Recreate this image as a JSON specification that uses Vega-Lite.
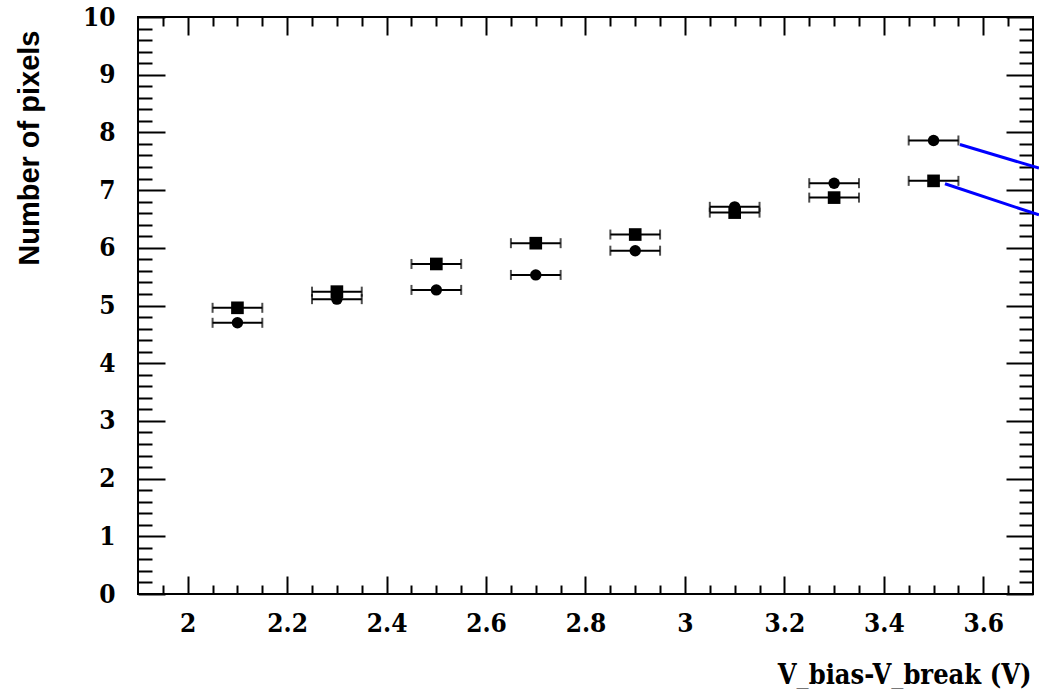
{
  "$schema": "https://vega.github.io/schema/vega-lite/v6.json",
  "width": 895,
  "height": 577,
  "autosize": "none",
  "padding": {"left": 138, "top": 17, "right": 6, "bottom": 95},
  "background": "white",
  "config": {
    "view": {"stroke": "black", "strokeWidth": 2},
    "axis": {"grid": false, "domain": false, "tickColor": "black", "labelColor": "black", "titleColor": "black"}
  },
  "datasets": {
    "pts": [
      {"x": 2.1, "xlo": 2.05, "xhi": 2.15, "y": 4.70, "series": "circle"},
      {"x": 2.3, "xlo": 2.25, "xhi": 2.35, "y": 5.11, "series": "circle"},
      {"x": 2.5, "xlo": 2.45, "xhi": 2.55, "y": 5.27, "series": "circle"},
      {"x": 2.7, "xlo": 2.65, "xhi": 2.75, "y": 5.53, "series": "circle"},
      {"x": 2.9, "xlo": 2.85, "xhi": 2.95, "y": 5.95, "series": "circle"},
      {"x": 3.1, "xlo": 3.05, "xhi": 3.15, "y": 6.71, "series": "circle"},
      {"x": 3.3, "xlo": 3.25, "xhi": 3.35, "y": 7.12, "series": "circle"},
      {"x": 3.5, "xlo": 3.45, "xhi": 3.55, "y": 7.86, "series": "circle"},
      {"x": 2.1, "xlo": 2.05, "xhi": 2.15, "y": 4.96, "series": "square"},
      {"x": 2.3, "xlo": 2.25, "xhi": 2.35, "y": 5.24, "series": "square"},
      {"x": 2.5, "xlo": 2.45, "xhi": 2.55, "y": 5.72, "series": "square"},
      {"x": 2.7, "xlo": 2.65, "xhi": 2.75, "y": 6.08, "series": "square"},
      {"x": 2.9, "xlo": 2.85, "xhi": 2.95, "y": 6.23, "series": "square"},
      {"x": 3.1, "xlo": 3.05, "xhi": 3.15, "y": 6.61, "series": "square"},
      {"x": 3.3, "xlo": 3.25, "xhi": 3.35, "y": 6.87, "series": "square"},
      {"x": 3.5, "xlo": 3.45, "xhi": 3.55, "y": 7.16, "series": "square"}
    ],
    "lines": [
      {"xa": 3.553, "ya": 7.79, "xb": 3.712, "yb": 7.38},
      {"xa": 3.523, "ya": 7.11, "xb": 3.712, "yb": 6.57}
    ]
  },
  "resolve": {"axis": {"x": "independent", "y": "independent"}},
  "layer": [
    {
      "data": {"name": "pts"},
      "mark": {"type": "rule", "color": "black", "strokeWidth": 2},
      "encoding": {
        "x": {"field": "xlo", "type": "quantitative", "scale": {"domain": [1.9, 3.7], "nice": false, "zero": false},
          "axis": {"orient": "bottom", "values": [2, 2.2, 2.4, 2.6, 2.8, 3, 3.2, 3.4, 3.6], "format": "~r", "tickSize": -18, "tickWidth": 2,
            "labelFont": "DejaVu Serif Condensed", "labelFontWeight": "bold", "labelFontSize": 26, "labelPadding": 34,
            "title": "V_bias-V_break (V)", "titleFont": "DejaVu Serif Condensed", "titleFontWeight": "bold", "titleFontSize": 27,
            "titleAlign": "right", "titleAnchor": null, "titleX": 893, "titleY": 89, "titleBaseline": "alphabetic"}},
        "x2": {"field": "xhi"},
        "y": {"field": "y", "type": "quantitative", "scale": {"domain": [0, 10], "nice": false, "zero": false},
          "axis": {"orient": "left", "values": [0, 1, 2, 3, 4, 5, 6, 7, 8, 9, 10], "format": "~r", "tickSize": -27, "tickWidth": 2,
            "labelFont": "DejaVu Serif Condensed", "labelFontWeight": "bold", "labelFontSize": 26, "labelPadding": 50,
            "title": "Number of pixels", "titleFont": "Liberation Sans", "titleFontWeight": "bold", "titleFontSize": 29,
            "titleAngle": -90, "titleAlign": "right", "titleAnchor": null, "titleX": -100, "titleY": 13, "titleBaseline": "alphabetic"}}
      }
    },
    {
      "data": {"name": "pts"},
      "mark": {"type": "tick", "orient": "vertical", "color": "black", "size": 10, "thickness": 2},
      "encoding": {
        "x": {"field": "xlo", "type": "quantitative", "scale": {"domain": [1.9, 3.7], "nice": false, "zero": false},
          "axis": {"orient": "bottom", "values": [1.95, 2.05, 2.1, 2.15, 2.25, 2.3, 2.35, 2.45, 2.5, 2.55, 2.65, 2.7, 2.75, 2.85, 2.9, 2.95, 3.05, 3.1, 3.15, 3.25, 3.3, 3.35, 3.45, 3.5, 3.55, 3.65],
            "tickSize": -9, "tickWidth": 2, "labels": false, "title": null}},
        "y": {"field": "y", "type": "quantitative", "scale": {"domain": [0, 10], "nice": false, "zero": false},
          "axis": {"orient": "left", "values": [0.2, 0.4, 0.6, 0.8, 1.2, 1.4, 1.6, 1.8, 2.2, 2.4, 2.6, 2.8, 3.2, 3.4, 3.6, 3.8, 4.2, 4.4, 4.6, 4.8, 5.2, 5.4, 5.6, 5.8, 6.2, 6.4, 6.6, 6.8, 7.2, 7.4, 7.6, 7.8, 8.2, 8.4, 8.6, 8.8, 9.2, 9.4, 9.6, 9.8],
            "tickSize": -14, "tickWidth": 2, "labels": false, "title": null}}
      }
    },
    {
      "data": {"name": "pts"},
      "mark": {"type": "tick", "orient": "vertical", "color": "black", "size": 10, "thickness": 2},
      "encoding": {
        "x": {"field": "xhi", "type": "quantitative", "scale": {"domain": [1.9, 3.7], "nice": false, "zero": false},
          "axis": {"orient": "top", "values": [2, 2.2, 2.4, 2.6, 2.8, 3, 3.2, 3.4, 3.6], "tickSize": -18, "tickWidth": 2, "labels": false, "title": null}},
        "y": {"field": "y", "type": "quantitative", "scale": {"domain": [0, 10], "nice": false, "zero": false},
          "axis": {"orient": "right", "values": [0, 1, 2, 3, 4, 5, 6, 7, 8, 9, 10], "tickSize": -27, "tickWidth": 2, "labels": false, "title": null}}
      }
    },
    {
      "data": {"name": "pts"},
      "mark": {"type": "point", "filled": true, "opacity": 1, "color": "black"},
      "encoding": {
        "x": {"field": "x", "type": "quantitative", "scale": {"domain": [1.9, 3.7], "nice": false, "zero": false},
          "axis": {"orient": "top", "values": [1.95, 2.05, 2.1, 2.15, 2.25, 2.3, 2.35, 2.45, 2.5, 2.55, 2.65, 2.7, 2.75, 2.85, 2.9, 2.95, 3.05, 3.1, 3.15, 3.25, 3.3, 3.35, 3.45, 3.5, 3.55, 3.65],
            "tickSize": -9, "tickWidth": 2, "labels": false, "title": null}},
        "y": {"field": "y", "type": "quantitative", "scale": {"domain": [0, 10], "nice": false, "zero": false},
          "axis": {"orient": "right", "values": [0.2, 0.4, 0.6, 0.8, 1.2, 1.4, 1.6, 1.8, 2.2, 2.4, 2.6, 2.8, 3.2, 3.4, 3.6, 3.8, 4.2, 4.4, 4.6, 4.8, 5.2, 5.4, 5.6, 5.8, 6.2, 6.4, 6.6, 6.8, 7.2, 7.4, 7.6, 7.8, 8.2, 8.4, 8.6, 8.8, 9.2, 9.4, 9.6, 9.8],
            "tickSize": -14, "tickWidth": 2, "labels": false, "title": null}},
        "shape": {"field": "series", "type": "nominal", "scale": {"domain": ["circle", "square"], "range": ["circle", "square"]}, "legend": null},
        "size": {"field": "series", "type": "nominal", "scale": {"domain": ["circle", "square"], "range": [130, 160]}, "legend": null}
      }
    },
    {
      "data": {"name": "lines"},
      "mark": {"type": "rule", "color": "#0000ff", "strokeWidth": 3},
      "encoding": {
        "x": {"field": "xa", "type": "quantitative", "axis": null},
        "y": {"field": "ya", "type": "quantitative", "axis": null},
        "x2": {"field": "xb"},
        "y2": {"field": "yb"}
      }
    }
  ]
}
